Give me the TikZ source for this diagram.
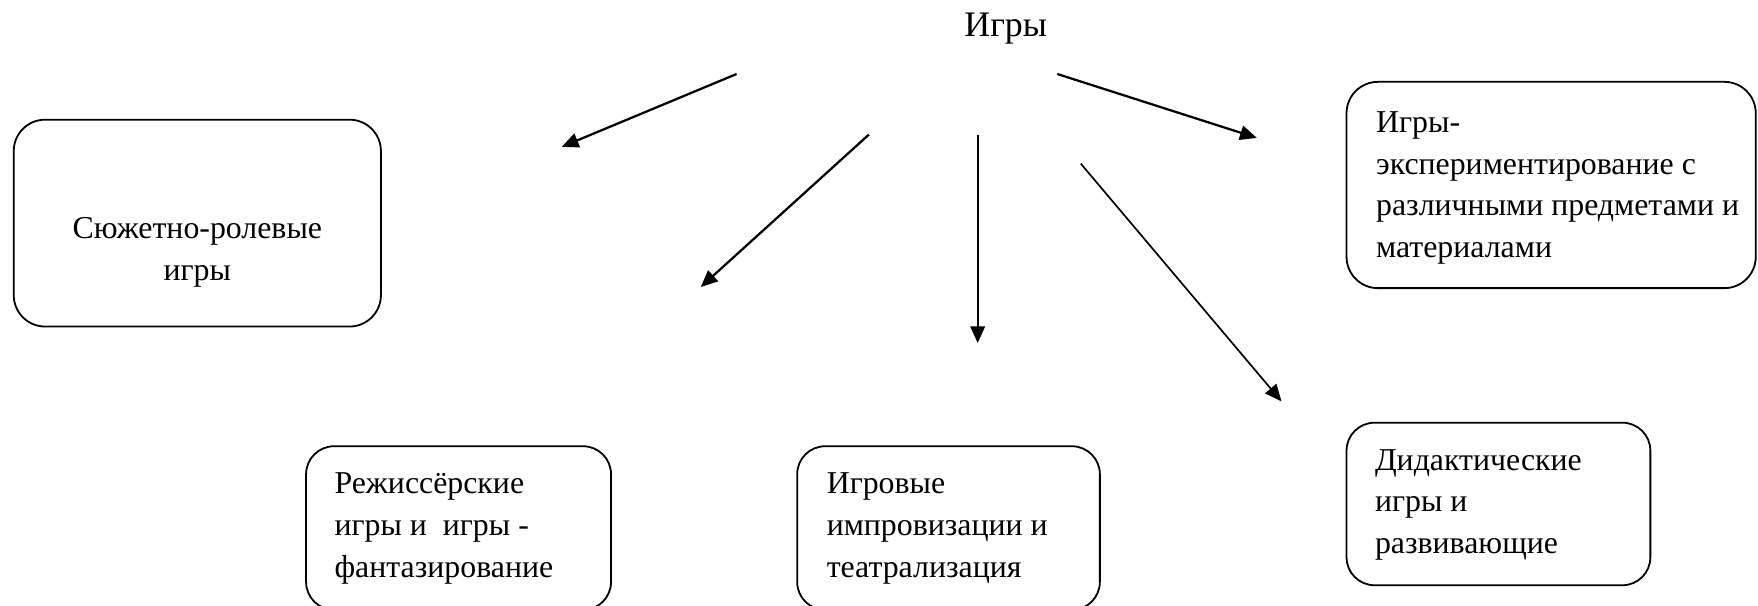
\documentclass[tikz,border=0pt]{standalone}
\usepackage{fontspec}
\setmainfont{Liberation Serif}
\usetikzlibrary{arrows.meta}
\begin{document}
\begin{tikzpicture}[x=0.5pt,y=-0.5pt,
  box/.style={draw, line width=0.8pt, inner sep=0pt, rounded corners=14pt},
  smallbox/.style={box, rounded corners=12.5pt},
  txt/.style={font=\fontsize{14.2}{18.7}\selectfont, inner sep=0pt, align=left, anchor=base west},
  arr/.style={line width=1pt, -{Triangle[length=7.5pt,width=6.5pt]}}]
\useasboundingbox (0,0) rectangle (1568,540);
% boxes
\node[box, minimum width=163.75pt, minimum height=92.25pt] (b1) at (176,199) {};
\node[box, minimum width=182.5pt, minimum height=92pt] (b2) at (1383.5,165) {};
\node[smallbox, minimum width=136pt, minimum height=73pt] (b3) at (409,471) {};
\node[smallbox, minimum width=135pt, minimum height=73pt] (b4) at (846,471) {};
\node[smallbox, minimum width=135.5pt, minimum height=72.5pt] (b5) at (1336.5,449.5) {};
% texts (anchor = baseline of the last line)
\node[font=\fontsize{16}{19}\selectfont, inner sep=0pt, anchor=base] (title) at (897,33) {Игры};
\node[txt, align=center, anchor=base] (t1) at (176,250) {Сюжетно-ролевые\\игры};
\node[txt] (t2) at (1227,230) {Игры-\\экспериментирование с\\различными предметами и\\материалами};
\node[txt] (t3) at (298,515) {Режиссёрские\\игры и\ \ игры -\\фантазирование};
\node[txt] (t4) at (737,515) {Игровые\\импровизации и\\театрализация};
\node[txt] (t5) at (1226,494) {Дидактические\\игры и\\развивающие};
% arrow ends
\coordinate (a1s) at (657,66);  \coordinate (a1e) at (501,131);
\coordinate (a2s) at (775,120); \coordinate (a2e) at (625,256);
\coordinate (a3s) at (872,120); \coordinate (a3e) at (872,306);
\coordinate (a4s) at (964,146); \coordinate (a4e) at (1143,358);
\coordinate (a5s) at (943,66);  \coordinate (a5e) at (1121,123);
\draw[arr] (a1s) -- (a1e);
\draw[arr] (a2s) -- (a2e);
\draw[arr] (a3s) -- (a3e);
\draw[arr, line width=0.75pt] (a4s) -- (a4e);
\draw[arr] (a5s) -- (a5e);
\end{tikzpicture}
\end{document}
